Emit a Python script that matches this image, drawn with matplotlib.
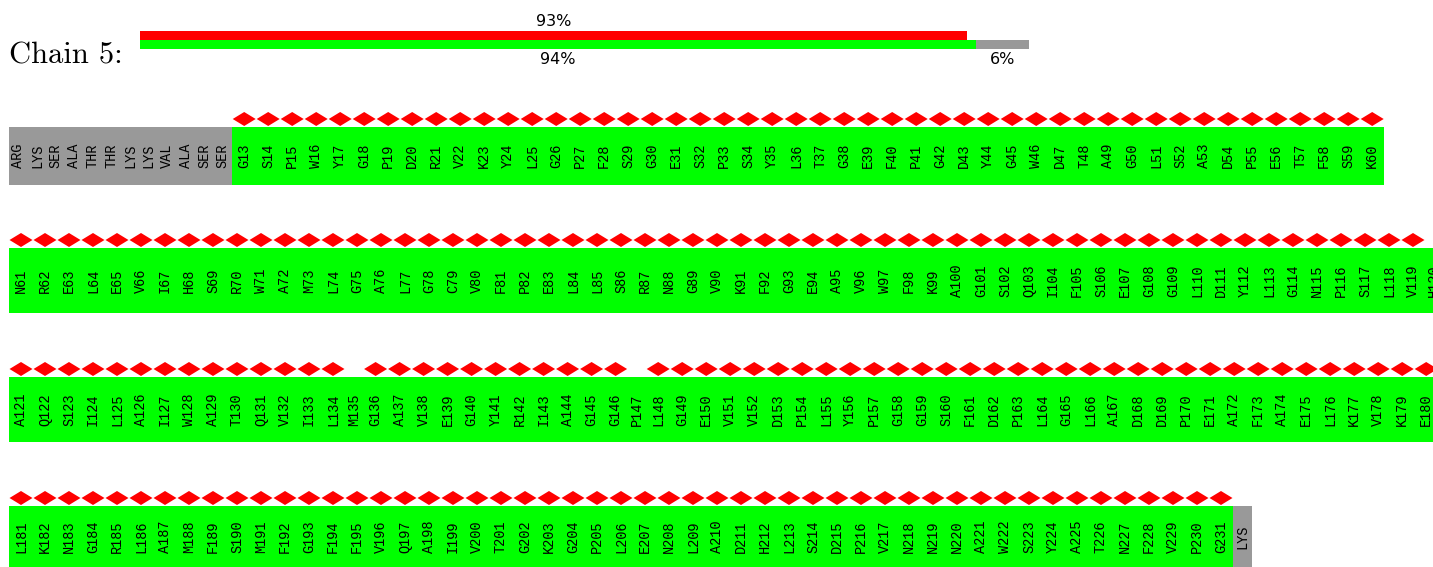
import matplotlib
matplotlib.use("Agg")
import matplotlib.pyplot as plt
from matplotlib.patches import Rectangle, Polygon

# Datos de la cadena
chain_name = "Chain 5:"
n_term_missing = ['ARG', 'LYS', 'SER', 'ALA', 'THR', 'THR', 'LYS', 'LYS', 'VAL', 'ALA', 'SER', 'SER']
c_term_missing = ['LYS']
first_modelled = 13
modelled_seq = ("GSPWYGPDRVKYLGPFSGESPSYLTGEFPGDYGWDTAGLSADPETFSK"
                "NRELEVIHSRWAMLGALGCVFPELLSRNGVKFGEAVWFKAGSQIFSEGGLDYLGNPSLVH"
                "AQSILAIWATQVILMGAVEGYRIAGGPLGEVVDPLYPGGSFDPLGLADDPEAFAELKVKE"
                "LKNGRLAMFSMFGFFVQAIVTGKGPLENLADHLSDPVNNNAWSYATNFVPG")
no_marker = ['H120', 'M135', 'P147']   # residuos sin rombo

# Resumen superior (porcentajes)
quality_pct = [93]          # barra roja
coverage_pct = [94, 6]      # verde / gris

# Colores
GREEN = '#00ff00'
GRAY = '#999999'
RED = '#ff0000'

# Construir lista de residuos: (etiqueta, modelado?)
residues = [(name, False) for name in n_term_missing]
for i, aa in enumerate(modelled_seq):
    residues.append((f"{aa}{first_modelled + i}", True))
residues += [(name, False) for name in c_term_missing]

per_row = 60
rows = [residues[i:i + per_row] for i in range(0, len(residues), per_row)]

# Geometria (pixeles)
W, H = 1433, 567
x_start = 9
wide, narrow = 24.0, 18.6
row_top = [127, 248, 377, 506]
row_h = [58, 65, 65, 61]
dia_w, dia_h, dia_off = 23, 14, 8

fig = plt.figure(figsize=(W / 100, H / 100), dpi=100)
ax = fig.add_axes([0, 0, 1, 1])
ax.set_xlim(0, W)
ax.set_ylim(H, 0)
ax.axis('off')

# Titulo de la cadena
ax.text(x_start, 63, chain_name, fontsize=22, ha='left', va='baseline', family='cmr10')

# Barras de resumen
bx, bw = 140, 889
ax.add_patch(Rectangle((bx, 31), bw * quality_pct[0] / 100, 9, color=RED, lw=0))
ax.text(bx + bw * quality_pct[0] / 200, 22, f"{quality_pct[0]}%", ha='center', va='center', fontsize=11.5)
left = bx
for pct, col in zip(coverage_pct, [GREEN, GRAY]):
    w = bw * pct / 100
    ax.add_patch(Rectangle((left, 40), w, 9, color=col, lw=0))
    ax.text(left + w / 2, 59, f"{pct}%", ha='center', va='center', fontsize=11.5)
    left += w

# Filas de residuos
for r, row in enumerate(rows):
    top, h = row_top[r], row_h[r]
    x = x_start
    for label, modelled in row:
        has_marker = modelled and label not in no_marker
        w = wide if has_marker else narrow
        ax.add_patch(Rectangle((x, top), w, h, color=GREEN if modelled else GRAY, lw=0))
        cx = x + w / 2
        if has_marker:
            cy = top - dia_off
            ax.add_patch(Polygon([(cx - dia_w / 2, cy), (cx, cy - dia_h / 2),
                                  (cx + dia_w / 2, cy), (cx, cy + dia_h / 2)],
                                 closed=True, color=RED, lw=0))
        ax.text(cx, top + h / 2, label, rotation=90, ha='center', va='center',
                fontsize=9.8, family='Liberation Mono', clip_on=True)
        x += w

fig.savefig('out.png', dpi=100)
